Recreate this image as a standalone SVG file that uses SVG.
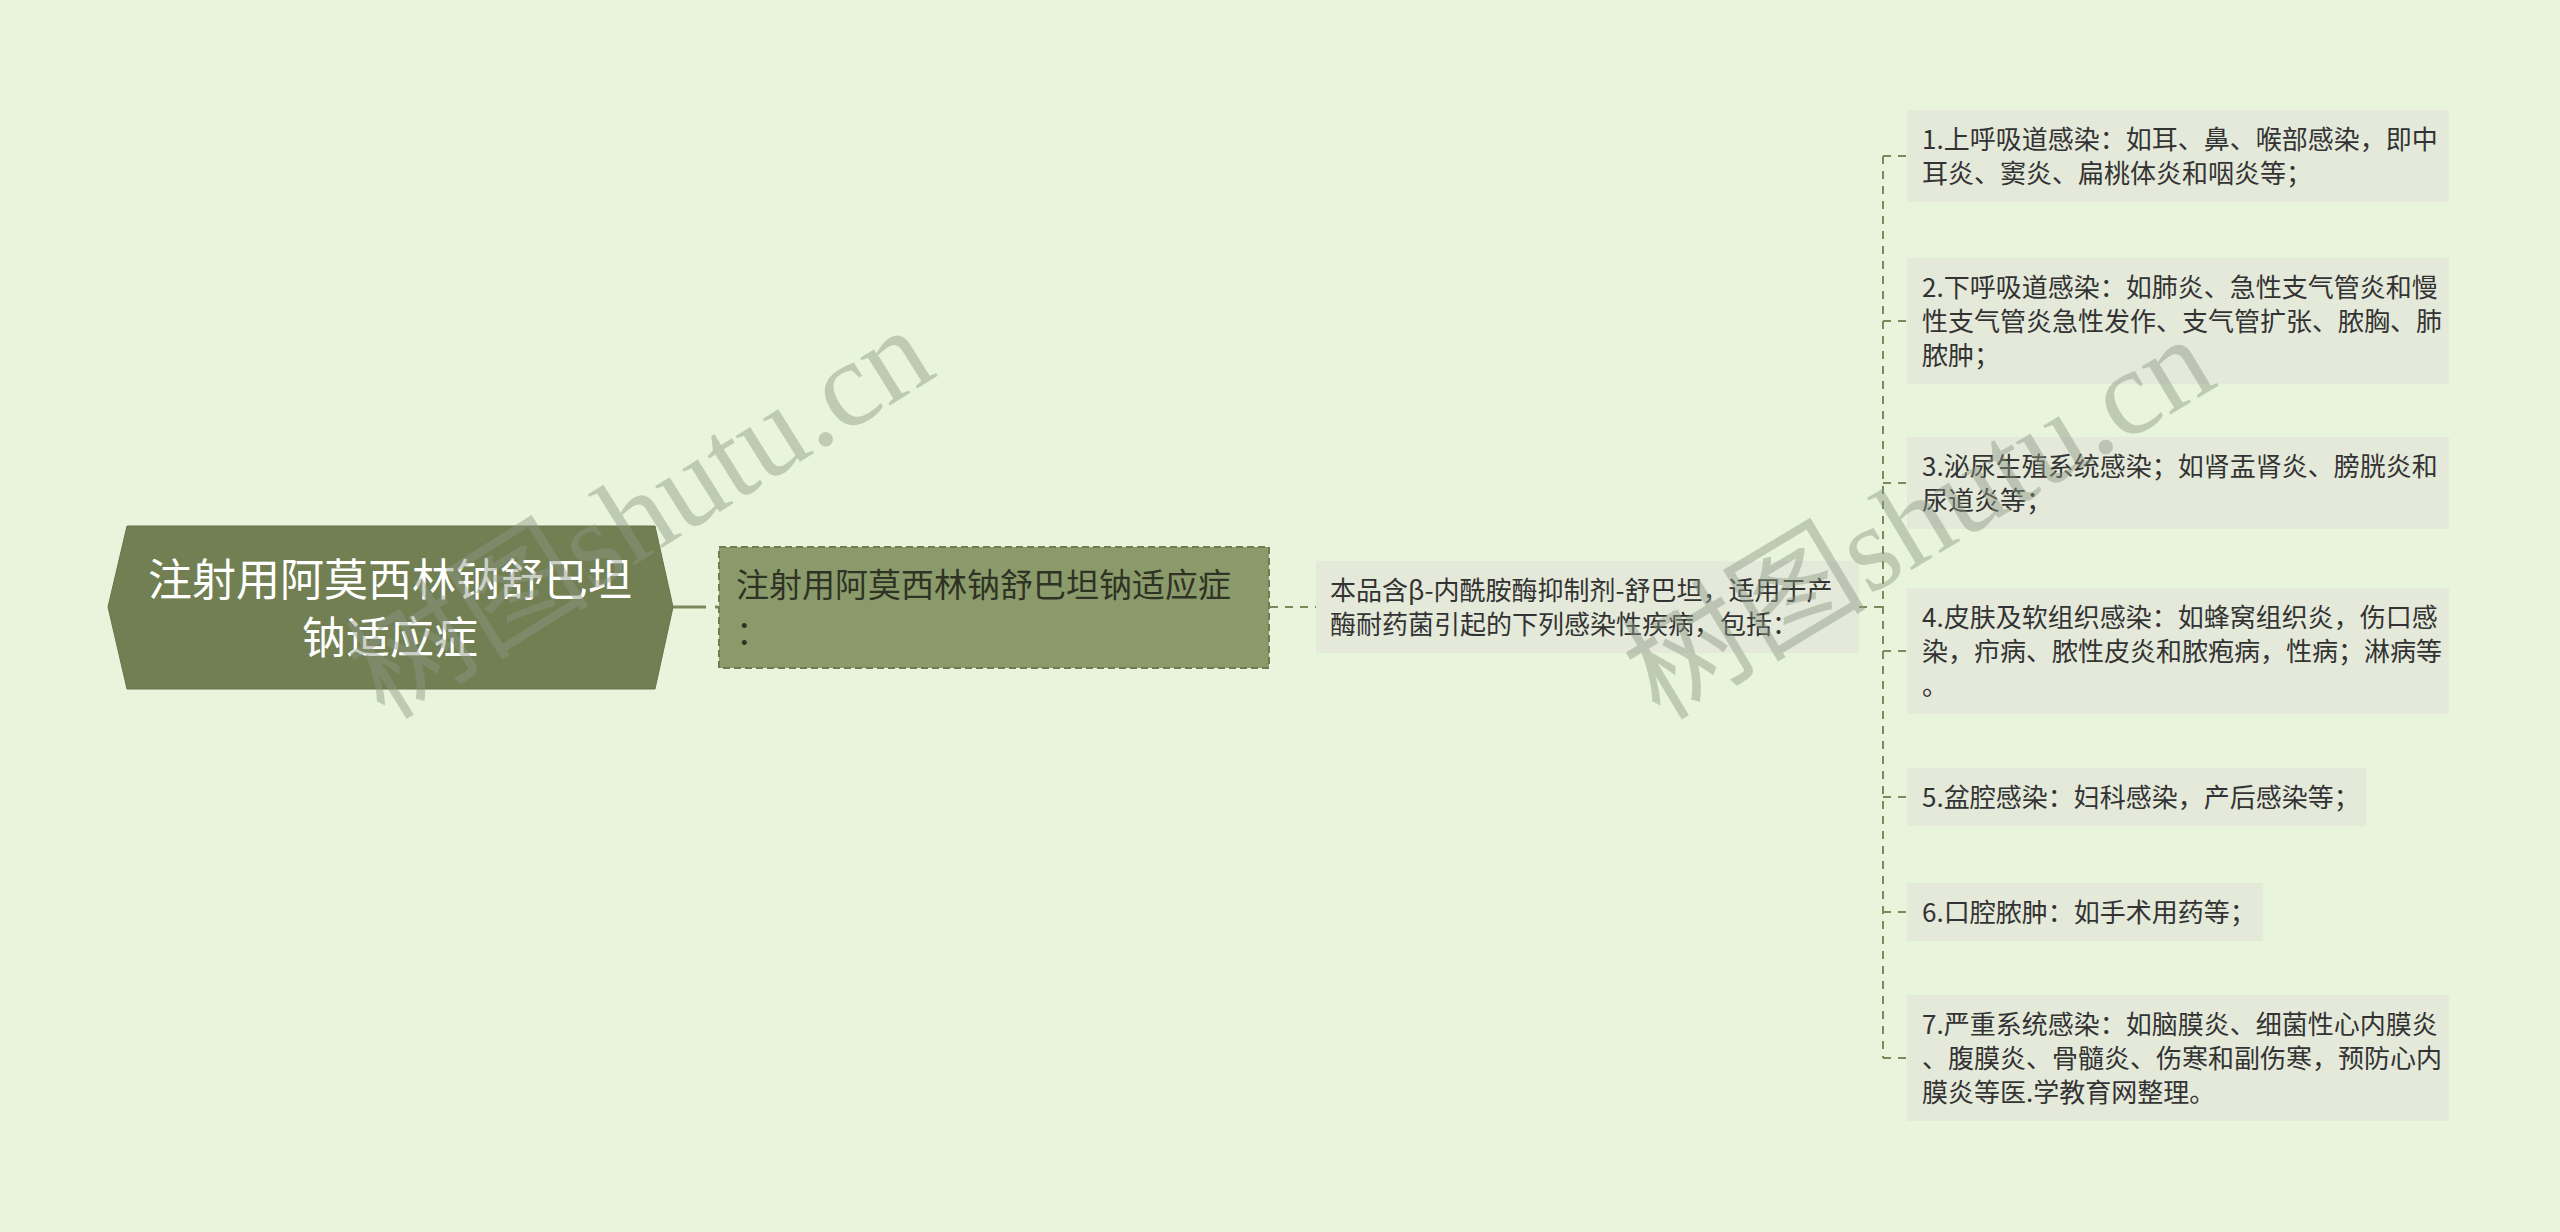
<svg xmlns="http://www.w3.org/2000/svg" width="2560" height="1232" viewBox="0 0 2560 1232">
<defs>
<style>
.cn{font-family:"Noto Sans CJK SC","Noto Sans",sans-serif;}
.root-t{font-size:44px;fill:#ffffff;text-anchor:middle;}
.n2-t{font-size:33px;fill:#2e3324;}
.leaf-t{font-size:26px;fill:#333333;}
.leaf{fill:#e4e9da;}
.conn{fill:none;stroke:#7b8a5b;stroke-width:2;stroke-dasharray:8 7;}
.wm{font-family:"Liberation Serif","Noto Sans CJK SC",serif;font-size:122px;fill:rgb(140,150,130);fill-opacity:0.45;text-anchor:middle;}
</style>
</defs>
<rect x="0" y="0" width="2560" height="1232" fill="#e8f5dc"/>

<g id="connectors">
<path d="M673 607 H718" fill="none" stroke="#7b8a5b" stroke-width="3" stroke-dasharray="33 9"/>
<path class="conn" d="M1270 607 H1316"/>
<path class="conn" d="M1859 607 H1883"/>
<path class="conn" d="M1883 156 V1058"/>
<path class="conn" d="M1883 156 H1907"/>
<path class="conn" d="M1883 321 H1907"/>
<path class="conn" d="M1883 483 H1907"/>
<path class="conn" d="M1883 651 H1907"/>
<path class="conn" d="M1883 797 H1907"/>
<path class="conn" d="M1883 912 H1907"/>
<path class="conn" d="M1883 1058 H1907"/>
</g>

<g id="root">
<polygon points="108,607 127,526 655,526 673,607 655,689 127,689" fill="#717f52" stroke="#66744a" stroke-width="1"/>
<text class="cn root-t" x="390" y="596">注射用阿莫西林钠舒巴坦</text>
<text class="cn root-t" x="390" y="654">钠适应症</text>
</g>

<g id="node2">
<rect x="719" y="547" width="550" height="121" fill="#8b9a6b" stroke="#6e7d50" stroke-width="2" stroke-dasharray="7 4"/>
<text class="cn n2-t" x="736" y="597">注射用阿莫西林钠舒巴坦钠适应症</text>
<text class="cn n2-t" x="736" y="644">：</text>
</g>

<g id="node3">
<rect class="leaf" x="1316" y="561" width="543" height="92"/>
<text class="cn leaf-t" x="1330" y="600">本品含β-内酰胺酶抑制剂-舒巴坦，适用于产</text>
<text class="cn leaf-t" x="1330" y="634">酶耐药菌引起的下列感染性疾病，包括：</text>
</g>

<g id="leaf1">
<rect class="leaf" x="1907" y="110" width="542" height="92"/>
<text class="cn leaf-t" x="1922" y="149">1.上呼吸道感染：如耳、鼻、喉部感染，即中</text>
<text class="cn leaf-t" x="1922" y="183">耳炎、窦炎、扁桃体炎和咽炎等；</text>
</g>

<g id="leaf2">
<rect class="leaf" x="1907" y="258" width="542" height="126"/>
<text class="cn leaf-t" x="1922" y="297">2.下呼吸道感染：如肺炎、急性支气管炎和慢</text>
<text class="cn leaf-t" x="1922" y="331">性支气管炎急性发作、支气管扩张、脓胸、肺</text>
<text class="cn leaf-t" x="1922" y="365">脓肿；</text>
</g>

<g id="leaf3">
<rect class="leaf" x="1907" y="437" width="542" height="92"/>
<text class="cn leaf-t" x="1922" y="476">3.泌尿生殖系统感染；如肾盂肾炎、膀胱炎和</text>
<text class="cn leaf-t" x="1922" y="510">尿道炎等；</text>
</g>

<g id="leaf4">
<rect class="leaf" x="1907" y="588" width="542" height="126"/>
<text class="cn leaf-t" x="1922" y="627">4.皮肤及软组织感染：如蜂窝组织炎，伤口感</text>
<text class="cn leaf-t" x="1922" y="661">染，疖病、脓性皮炎和脓疱病，性病；淋病等</text>
<text class="cn leaf-t" x="1922" y="695">。</text>
</g>

<g id="leaf5">
<rect class="leaf" x="1907" y="768" width="459" height="58"/>
<text class="cn leaf-t" x="1922" y="807">5.盆腔感染：妇科感染，产后感染等；</text>
</g>

<g id="leaf6">
<rect class="leaf" x="1907" y="883" width="356" height="58"/>
<text class="cn leaf-t" x="1922" y="922">6.口腔脓肿：如手术用药等；</text>
</g>

<g id="leaf7">
<rect class="leaf" x="1907" y="995" width="542" height="126"/>
<text class="cn leaf-t" x="1922" y="1034">7.严重系统感染：如脑膜炎、细菌性心内膜炎</text>
<text class="cn leaf-t" x="1922" y="1068">、腹膜炎、骨髓炎、伤寒和副伤寒，预防心内</text>
<text class="cn leaf-t" x="1922" y="1102">膜炎等医.学教育网整理。</text>
</g>

<g id="watermarks">
<text class="wm" transform="translate(662,548) rotate(-32)">树图shutu.cn</text>
<text class="wm" transform="translate(1940,553) rotate(-31)">树图shutu.cn</text>
</g>
</svg>
